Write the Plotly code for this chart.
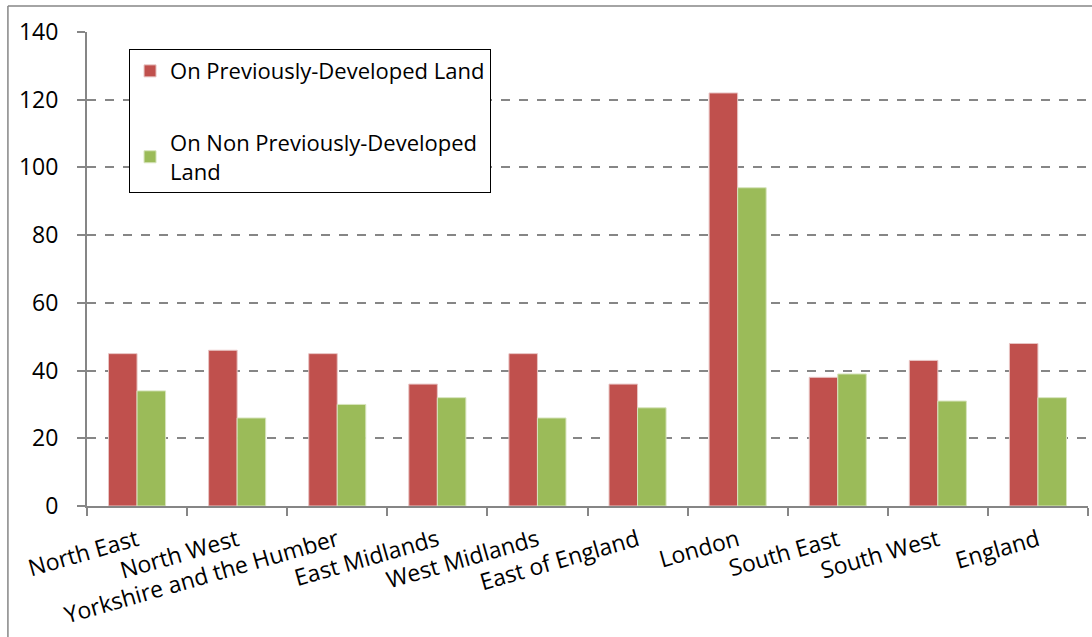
import plotly.graph_objects as go

categories = ["North East", "North West", "Yorkshire and the Humber", "East Midlands",
              "West Midlands", "East of England", "London", "South East", "South West", "England"]
previously_developed = [45, 46, 45, 36, 45, 36, 122, 38, 43, 48]
non_previously_developed = [34, 26, 30, 32, 26, 29, 94, 39, 31, 32]
y_ticks = [0, 20, 40, 60, 80, 100, 120, 140]

FONT = "Open Sans"
fig = go.Figure()
fig.add_trace(go.Bar(x=categories, y=previously_developed, name="On Previously-Developed Land",
                     marker=dict(color="#C0504D", line=dict(color="#E8C5C4", width=1)),
                     legendgroup="a"))
fig.add_trace(go.Bar(x=categories, y=non_previously_developed,
                     name="On Non Previously-Developed<br>Land",
                     marker=dict(color="#9BBB59", line=dict(color="#D7E4BD", width=1)),
                     legendgroup="b"))

fig.update_layout(
    width=1092, height=637,
    margin=dict(l=87, r=4, t=32, b=131),
    paper_bgcolor="white", plot_bgcolor="white",
    font=dict(family=FONT, size=22, color="black"),
    barmode="group", bargap=0.43, bargroupgap=0,
    showlegend=True,
    legend=dict(x=0.042, y=0.964, xanchor="left", yanchor="top",
                bordercolor="black", borderwidth=1, bgcolor="white",
                font=dict(family=FONT, size=22), tracegroupgap=40,
                itemwidth=30, traceorder="grouped"),
    xaxis=dict(showline=True, linecolor="#868686", linewidth=2, ticks="outside",
               tickcolor="#868686", ticklen=8, tickwidth=2, tickson="boundaries",
               tickangle=-16, tickfont=dict(size=23), showgrid=False,
               ticklabelstandoff=10),
    yaxis=dict(range=[0, 140], tickvals=y_ticks, showline=True, linecolor="#868686",
               linewidth=2, ticks="outside", tickcolor="#868686", ticklen=8, tickwidth=2,
               showgrid=True, gridcolor="#868686", griddash="dash", gridwidth=1.5,
               tickfont=dict(size=23), ticklabelstandoff=14, zeroline=False),
)
fig.add_shape(type="line", xref="paper", yref="paper", x0=-0.079, x1=1.01, y0=1.055, y1=1.055,
              line=dict(color="#868686", width=1.5))
fig.add_shape(type="line", xref="paper", yref="paper", x0=-0.079, x1=-0.079, y0=1.055, y1=-0.35,
              line=dict(color="#868686", width=1.5))
fig.write_html("out.html")
